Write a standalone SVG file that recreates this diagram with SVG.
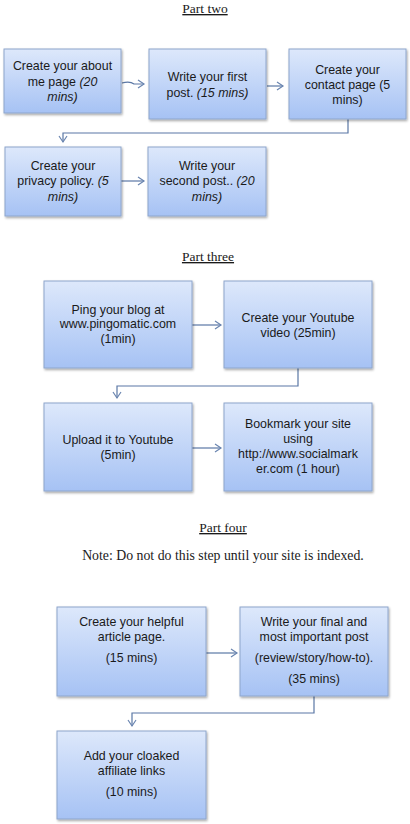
<svg xmlns="http://www.w3.org/2000/svg" width="410" height="824" viewBox="0 0 410 824">
<defs>
<linearGradient id="g" x1="0" y1="0" x2="0" y2="1">
<stop offset="0" stop-color="#dde8fb"/>
<stop offset="1" stop-color="#a6c2f4"/>
</linearGradient>
<filter id="sh" x="-10%" y="-10%" width="130%" height="130%">
<feDropShadow dx="1" dy="1.5" stdDeviation="1" flood-color="#000" flood-opacity="0.35"/>
</filter>
<marker id="ar" markerWidth="10" markerHeight="10" refX="8" refY="5" orient="auto" markerUnits="userSpaceOnUse">
<path d="M2,1 L8,5 L2,9" fill="none" stroke="#6a85b0" stroke-width="1.2"/>
</marker>
</defs>
<style>
.box{fill:url(#g);stroke:#8ea6cc;stroke-width:1;filter:url(#sh)}
.t{font-family:"Liberation Sans",Arial,sans-serif;font-size:12.4px;fill:#1a1a1a;text-anchor:middle}
.i{font-style:italic}
.h{font-family:"Liberation Serif","Times New Roman",serif;font-size:13.5px;fill:#1a1a1a;text-anchor:middle;text-decoration:underline}
.n{font-family:"Liberation Serif","Times New Roman",serif;font-size:13.8px;fill:#1a1a1a;text-anchor:middle}
.c{fill:none;stroke:#5a77a5;stroke-width:1.2}
</style>
<text class="h" x="205" y="13">Part two</text>
<text class="h" x="208" y="261">Part three</text>
<text class="h" x="223" y="532">Part four</text>
<text class="n" x="223" y="560">Note: Do not do this step until your site is indexed.</text>

<g id="connectors">
<path class="c" d="M122,83 Q130,81 134,84 L144,84" marker-end="url(#ar)"/>
<path class="c" d="M267,86 L283,86" marker-end="url(#ar)"/>
<path class="c" d="M348,119 L348,133 L63,133 L63,142" marker-end="url(#ar)"/>
<path class="c" d="M121,181 L144,181" marker-end="url(#ar)"/>
<path class="c" d="M192,325 L221,325" marker-end="url(#ar)"/>
<path class="c" d="M298,368 L298,386 L117,386 L117,398" marker-end="url(#ar)"/>
<path class="c" d="M192,448 L221,448" marker-end="url(#ar)"/>
<path class="c" d="M206,653 L237,653" marker-end="url(#ar)"/>
<path class="c" d="M314,696 L314,713 L132,713 L132,726" marker-end="url(#ar)"/>
</g>

<g id="n1"><rect class="box" x="4" y="49" width="117" height="64"/>
<text class="t" x="62.5" y="70">Create your about</text>
<text class="t" x="62.5" y="86">me page <tspan class="i">(20</tspan></text>
<text class="t i" x="62.5" y="101">mins)</text></g>

<g id="n2"><rect class="box" x="149" y="49" width="117" height="70"/>
<text class="t" x="207.5" y="81">Write your first</text>
<text class="t" x="207.5" y="97">post. <tspan class="i">(15 mins)</tspan></text></g>

<g id="n3"><rect class="box" x="289" y="49" width="117" height="70"/>
<text class="t" x="347.5" y="74">Create your</text>
<text class="t" x="347.5" y="89">contact page (5</text>
<text class="t" x="347.5" y="104">mins)</text></g>

<g id="n4"><rect class="box" x="5" y="147" width="116" height="69"/>
<text class="t" x="63" y="170">Create your</text>
<text class="t" x="63" y="185">privacy policy. <tspan class="i">(5</tspan></text>
<text class="t i" x="63" y="201">mins)</text></g>

<g id="n5"><rect class="box" x="148" y="147" width="118" height="69"/>
<text class="t" x="207" y="170">Write your</text>
<text class="t" x="207" y="185">second post.. <tspan class="i">(20</tspan></text>
<text class="t i" x="207" y="201">mins)</text></g>

<g id="n6"><rect class="box" x="44" y="281" width="148" height="87"/>
<text class="t" x="118" y="314">Ping your blog at</text>
<text class="t" x="118" y="328">www.pingomatic.com</text>
<text class="t" x="118" y="343">(1min)</text></g>

<g id="n7"><rect class="box" x="224" y="281" width="148" height="87"/>
<text class="t" x="298" y="322">Create your Youtube</text>
<text class="t" x="298" y="337">video (25min)</text></g>

<g id="n8"><rect class="box" x="44" y="403" width="148" height="88"/>
<text class="t" x="118" y="444">Upload it to Youtube</text>
<text class="t" x="118" y="459">(5min)</text></g>

<g id="n9"><rect class="box" x="224" y="403" width="148" height="88"/>
<text class="t" x="298" y="428">Bookmark your site</text>
<text class="t" x="298" y="443">using</text>
<text class="t" x="298" y="458">http://www.socialmark</text>
<text class="t" x="298" y="473">er.com (1 hour)</text></g>

<g id="n10"><rect class="box" x="57" y="607" width="149" height="89"/>
<text class="t" x="131.5" y="626">Create your helpful</text>
<text class="t" x="131.5" y="641">article page.</text>
<text class="t" x="131.5" y="662">(15 mins)</text></g>

<g id="n11"><rect class="box" x="240" y="607" width="148" height="89"/>
<text class="t" x="314" y="626">Write your final and</text>
<text class="t" x="314" y="641">most important post</text>
<text class="t" x="314" y="662">(review/story/how-to).</text>
<text class="t" x="314" y="683">(35 mins)</text></g>

<g id="n12"><rect class="box" x="57" y="731" width="149" height="88"/>
<text class="t" x="131.5" y="760">Add your cloaked</text>
<text class="t" x="131.5" y="775">affiliate links</text>
<text class="t" x="131.5" y="796">(10 mins)</text></g>
</svg>
